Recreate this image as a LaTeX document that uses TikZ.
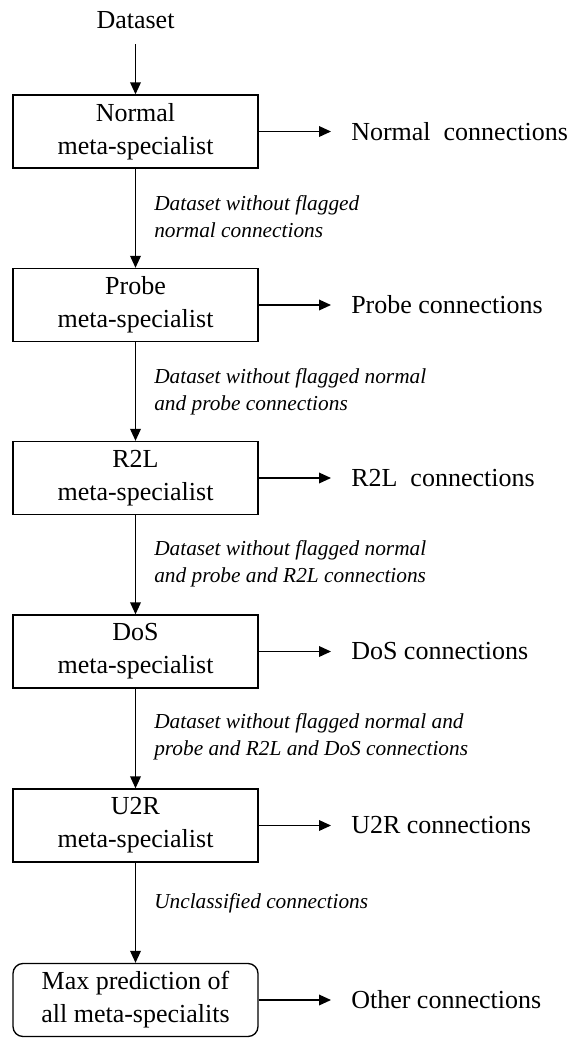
\documentclass[tikz,border=0pt]{standalone}
\usepackage{fontspec}
\setmainfont{Liberation Serif}
\usetikzlibrary{arrows.meta, positioning}

\begin{document}
\begin{tikzpicture}[x=0.75pt, y=-0.75pt,
  every node/.style={font=\fontsize{19.5}{24.75}\selectfont},
  box/.style={draw, line width=1pt, minimum width=183.75pt, minimum height=54.75pt,
    align=center, inner sep=0pt},
  outlabel/.style={anchor=west, inner xsep=15pt, inner ysep=0pt},
  passlabel/.style={anchor=west, align=left, inner sep=0pt,
    font=\fontsize{16}{20.25}\selectfont\itshape},
  flow/.style={-{Triangle[length=9pt,width=8pt]}, line width=1pt}]
\useasboundingbox (0,0) rectangle (574,1039);

% input
\node (data) at (135.5,20) {Dataset};

% one meta-specialist per class
\node[box] (normal) at (135.5,131.5) {Normal\\meta-specialist};
\node[box] (probe) at (135.5,305) {Probe\\meta-specialist};
\node[box] (r2l) at (135.5,478) {R2L\\meta-specialist};
\node[box] (dos) at (135.5,651.5) {DoS\\meta-specialist};
\node[box] (u2r) at (135.5,825.5) {U2R\\meta-specialist};
\node[box, rounded corners=7.5pt] (max) at (135.5,1000) {Max prediction of\\all meta-specialits};

% flagged outputs
\node[outlabel] (normalout) at (331,131.5) {Normal\ \ connections};
\node[outlabel] (probeout) at (331,305) {Probe connections};
\node[outlabel] (r2lout) at (331,478) {R2L\ \ connections};
\node[outlabel] (dosout) at (331,651.5) {DoS connections};
\node[outlabel] (u2rout) at (331,825.5) {U2R connections};
\node[outlabel] (maxout) at (331,1000) {Other connections};

% what is passed on
\node[passlabel] (pass1) at (154,216.5) {Dataset without flagged\\normal connections};
\node[passlabel] (pass2) at (154,391.5) {Dataset without flagged normal\\and probe connections};
\node[passlabel] (pass3) at (154,563.5) {Dataset without flagged normal\\and probe and R2L connections};
\node[passlabel] (pass4) at (154,736.5) {Dataset without flagged normal and\\probe and R2L and DoS connections};
\node[passlabel] (pass5) at (154,903) {Unclassified connections};

\draw[flow, shorten <=8pt] (data) -- (normal);
\foreach \a/\b in {normal/probe, probe/r2l, r2l/dos, dos/u2r, u2r/max}
  \draw[flow] (\a) -- (\b);
\foreach \b in {normal, probe, r2l, dos, u2r, max}
  \draw[flow] (\b) -- (\b out);
\end{tikzpicture}
\end{document}
